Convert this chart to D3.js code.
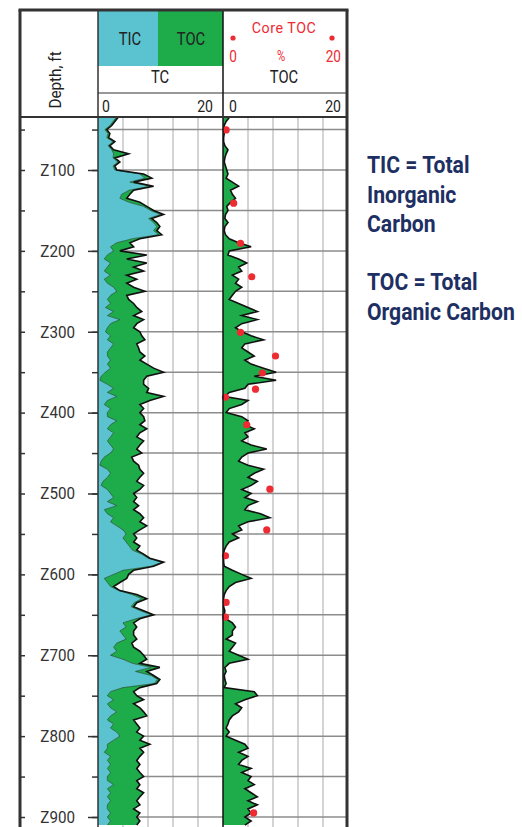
<!DOCTYPE html>
<html><head><meta charset="utf-8">
<script src="https://cdn.jsdelivr.net/npm/d3@7"></script>
<style>body{margin:0;background:#fff}svg{display:block}</style>
</head><body>
<svg id="c" width="522" height="827"></svg>
<script>
// ---------- data ----------
const depths = [35,40,45,50,55,60,65,70,75,80,85,90,95,100,105,110,115,120,125,130,135,140,145,150,155,160,165,170,175,180,185,190,195,200,205,210,215,220,225,230,235,240,
245,250,255,260,265,270,275,280,285,290,295,300,305,310,315,320,325,330,335,340,345,350,355,360,365,370,375,380,385,390,395,400,405,410,415,420,425,430,435,440,445,
450,455,460,465,470,475,480,485,490,495,500,505,510,515,520,525,530,535,540,545,550,555,560,565,570,575,580,585,590,595,600,605,610,615,620,625,630,635,640,645,650,655,660,665,670,
675,680,685,690,695,700,705,710,715,720,725,730,735,740,745,750,755,760,765,770,775,780,785,790,795,800,805,810,815,820,825,830,835,840,845,850,855,860,865,870,875,880,885,890,895,900,905,910];

const tcValues = [3.2,2.7,2.2,1.4,1.9,1.7,2.7,1.9,2.5,4.9,2.7,3.5,2.7,3.0,7.3,8.6,5.7,8.9,5.7,5.1,4.6,6.7,7.8,8.9,10.5,8.6,9.4,9.9,9.4,10.2,6.7,5.1,5.7,3.5,7.8,4.6,7.8,5.7,7.3,4.6,6.2,4.6,
5.7,7.5,4.6,4.9,5.7,6.2,7.0,5.7,7.3,6.2,5.7,6.7,7.0,7.5,6.2,6.5,6.7,7.5,6.7,7.8,8.9,10.5,7.8,7.3,7.3,8.1,7.8,10.5,8.3,6.7,7.3,6.7,7.3,7.5,6.7,7.8,6.7,6.2,7.3,6.7,6.2,
7.0,5.4,5.7,6.5,6.7,7.3,6.7,6.2,7.3,6.7,5.7,6.2,5.7,6.5,5.7,6.7,7.3,6.7,7.8,6.7,5.7,6.2,5.7,6.7,6.2,7.3,8.3,10.5,8.9,5.7,4.9,4.6,3.5,2.5,3.5,6.2,7.8,6.2,5.7,7.3,8.9,6.7,5.7,6.2,5.7,
5.7,6.2,5.4,5.7,6.7,7.3,7.8,6.7,9.9,7.8,8.9,9.9,9.4,6.7,5.7,6.2,7.3,5.7,6.7,7.3,7.8,5.7,6.2,6.7,6.2,7.3,6.7,8.3,6.7,7.3,6.7,6.2,6.7,6.2,6.7,7.3,6.2,6.7,6.2,7.3,6.7,6.2,6.7,5.7,6.7,6.2,6.7,6.2];

const ticValues = [2.9,2.4,1.9,1.1,1.6,1.4,2.4,1.6,2.2,2.5,2.4,3.2,2.4,2.7,6.7,7.5,5.1,8.3,5.0,3.8,3.5,5.0,7.3,8.4,10.0,8.1,8.9,9.4,8.9,9.7,5.5,3.0,2.0,2.5,1.5,1.0,2.0,1.5,1.0,2.0,1.0,1.5,
2.5,3.0,2.0,1.5,2.0,1.2,2.5,1.5,3.5,2.0,1.5,1.2,2.0,1.5,2.5,2.0,1.5,1.5,2.0,1.5,2.0,1.2,0.5,0.3,1.5,2.5,1.5,3.0,1.5,1.0,2.0,1.5,1.5,3.0,2.0,1.5,2.5,2.0,1.5,2.0,2.5,
2.0,1.0,0.5,0.3,1.5,2.0,1.5,0.8,0.5,1.5,2.0,2.5,1.5,3.0,1.0,1.5,2.5,2.0,3.0,4.0,4.5,4.0,4.5,5.0,5.5,7.0,8.0,10.2,8.5,4.0,2.5,1.0,1.5,2.0,3.3,5.5,7.0,5.8,5.3,6.8,8.5,6.0,4.0,4.5,3.5,
4.0,4.5,3.0,2.5,3.0,2.0,4.0,5.5,8.5,6.0,8.5,9.5,9.0,4.0,2.0,1.5,2.5,1.5,2.0,3.0,2.0,1.5,2.5,2.0,3.0,3.5,2.5,1.5,1.5,1.0,2.0,1.5,2.0,1.5,2.0,1.5,1.5,2.5,1.5,2.0,1.5,2.0,1.5,1.5,2.0,1.5,2.0,1.5];

const tocValues = [1.0,0.5,0.2,0.1,0.2,0.1,0.1,0.3,0.8,0.5,0.3,0.2,0.4,0.6,0.8,0.5,1.5,2.5,1.2,1.5,2.0,1.2,0.6,0.8,0.4,0.3,0.8,0.3,0.2,0.4,1.0,2.5,4.5,1.0,0.8,2.5,3.8,2.5,3.0,1.5,2.5,2.0,
3.0,2.0,1.5,1.0,2.5,4.0,5.5,3.0,5.5,3.0,2.0,3.0,4.5,6.5,3.5,3.0,4.0,5.0,3.5,4.5,6.5,8.5,5.0,8.5,4.0,3.5,1.0,0.3,4.0,3.0,1.0,0.5,3.0,4.0,3.5,5.0,3.5,4.0,3.0,4.5,7.0,
4.0,3.0,2.5,4.0,6.5,5.0,4.0,5.5,4.5,3.0,4.5,3.5,5.5,4.0,3.5,6.0,7.5,4.0,2.5,3.0,1.5,2.5,1.0,0.5,0.2,0.1,0.1,0.1,0.2,1.5,3.0,4.5,2.0,1.0,0.5,0.2,0.1,0.2,0.1,0.3,0.2,0.5,1.5,2.0,1.5,
1.5,0.5,2.0,1.5,1.0,2.5,4.0,1.0,0.3,0.5,0.2,0.3,0.5,0.2,5.0,5.5,3.5,2.0,3.0,2.5,1.5,1.0,0.8,0.5,1.0,0.5,2.0,3.5,4.0,2.5,4.0,3.0,2.5,4.5,3.0,4.5,4.0,5.0,3.5,4.5,5.5,4.0,5.5,4.0,4.5,3.5,4.5,3.5];

const coreDepths = [50.5,141,190.6,232,300.7,330,351,371,381,415,494.6,545,577,634.7,652.8,895];
const coreToc    = [0.5,1.7,2.8,4.6,2.8,8.4,6.3,5.2,0.4,3.8,7.5,7.0,0.4,0.5,0.4,4.9];

const depthTickValues = [50,100,150,200,250,300,350,400,450,500,550,600,650,700,750,800,850,900];
const depthLabelValues = [100,200,300,400,500,600,700,800,900];
const scaleTickLabels = ["0","20"];
const notes = [["TIC = Total","Inorganic","Carbon"],["TOC = Total","Organic Carbon"]];

// ---------- setup ----------
const svg = d3.select("#c");
const F = "Roboto, 'Noto Sans', sans-serif";
const CYAN = "#5ac3cf", GREEN = "#1eab4a", RED = "#ee2a32", NAVY = "#1d2f63";

const L = 20, R = 347, TOP = 10, DATA_TOP = 117, BOTTOM = 827;
const y = d3.scaleLinear().domain([100, 900]).range([170, 817]);
const xTC = d3.scaleLinear().domain([0, 20]).range([98, 223]);
const xTOC = d3.scaleLinear().domain([0, 20]).range([223, 348]);

const rows = depths.map((d, i) => ({depth: d, tc: tcValues[i], tic: ticValues[i], toc: tocValues[i]}));

svg.append("defs").append("clipPath").attr("id", "clip")
  .append("rect").attr("x", 98).attr("y", DATA_TOP).attr("width", R - 98).attr("height", BOTTOM - DATA_TOP);

// grid
const grid = svg.append("g");
const vg = [4, 8, 12, 16];
grid.selectAll(".v1").data(vg).join("line")
  .attr("x1", d => xTC(d)).attr("x2", d => xTC(d)).attr("y1", DATA_TOP).attr("y2", BOTTOM)
  .attr("stroke", "#d4d4d4").attr("stroke-width", 2);
grid.selectAll(".v2").data(vg).join("line")
  .attr("x1", d => xTOC(d)).attr("x2", d => xTOC(d)).attr("y1", DATA_TOP).attr("y2", BOTTOM)
  .attr("stroke", "#d4d4d4").attr("stroke-width", 2);
grid.selectAll(".h").data(depthTickValues).join("line")
  .attr("x1", 98).attr("x2", R).attr("y1", d => y(d)).attr("y2", d => y(d))
  .attr("stroke", "#8c8c8c").attr("stroke-width", 1.5);

// TC track
const g = svg.append("g").attr("clip-path", "url(#clip)");
g.append("path").datum(rows)
  .attr("d", d3.area().y(d => y(d.depth)).x0(xTC(0)).x1(d => xTC(d.tic)))
  .attr("fill", CYAN);
g.append("path").datum(rows)
  .attr("d", d3.area().y(d => y(d.depth)).x0(d => xTC(d.tic)).x1(d => xTC(d.tc)))
  .attr("fill", GREEN);
g.append("path").datum(rows)
  .attr("d", d3.line().y(d => y(d.depth)).x(d => xTC(d.tic)))
  .attr("fill", "none").attr("stroke", "#1d4a30").attr("stroke-width", 0.7);
g.append("path").datum(rows)
  .attr("d", d3.line().y(d => y(d.depth)).x(d => xTC(d.tc)))
  .attr("fill", "none").attr("stroke", "#111").attr("stroke-width", 1.6);

// TOC track
g.append("path").datum(rows)
  .attr("d", d3.area().y(d => y(d.depth)).x0(xTOC(0)).x1(d => xTOC(d.toc)))
  .attr("fill", GREEN);
g.append("path").datum(rows)
  .attr("d", d3.line().y(d => y(d.depth)).x(d => xTOC(d.toc)))
  .attr("fill", "none").attr("stroke", "#111").attr("stroke-width", 1.6);

// core points
g.selectAll(".core").data(coreDepths).join("circle")
  .attr("cx", (d, i) => xTOC(coreToc[i])).attr("cy", d => y(d)).attr("r", 3.6)
  .attr("fill", RED);

// depth axes
const axMajor = d3.axisLeft(y).tickValues(depthLabelValues).tickSize(10).tickPadding(0)
  .tickFormat(d => "Z" + d);
const axMinor = d3.axisLeft(y).tickValues(depthTickValues).tickSize(6).tickFormat("");
const axLeftEdge = d3.axisRight(y).tickValues(depthTickValues).tickSize(5).tickFormat("");
function styleAxis(s) {
  s.select(".domain").remove();
  s.selectAll(".tick line").attr("stroke", "#333").attr("stroke-width", 1.5);
  s.selectAll(".tick text").attr("fill", "#333").attr("font-family", F).attr("font-size", 16.5)
    .attr("x", 0).attr("transform", "translate(-23,0) scale(0.92,1)");
}
svg.append("g").attr("transform", "translate(98,0)").call(axMinor).call(styleAxis);
svg.append("g").attr("transform", "translate(98,0)").call(axMajor).call(styleAxis);
svg.append("g").attr("transform", "translate(20,0)").call(axLeftEdge).call(styleAxis);

// header
const h = svg.append("g");
h.append("rect").attr("x", 98).attr("y", TOP).attr("width", 60).attr("height", 56).attr("fill", CYAN);
h.append("rect").attr("x", 158).attr("y", TOP).attr("width", 65).attr("height", 56).attr("fill", GREEN);
function txt(x, yy, s, anchor, size, color, sx) {
  return h.append("text").attr("transform", `translate(${x},${yy}) scale(${sx || 0.82},1)`)
    .attr("text-anchor", anchor || "middle")
    .attr("font-family", F).attr("font-size", size || 18).attr("fill", color || "#222").text(s);
}
txt(130, 45, "TIC");
txt(191, 45, "TOC");
txt(160, 83, "TC");
txt(284, 83, "TOC");
txt(102, 112, scaleTickLabels[0], "start", 16, "#222", 0.88);
txt(213, 112, scaleTickLabels[1], "end", 16, "#222", 0.88);
txt(229, 112, scaleTickLabels[0], "start", 16, "#222", 0.88);
txt(341, 112, scaleTickLabels[1], "end", 16, "#222", 0.88);
txt(284, 33, "Core TOC", "middle", 15.5, RED, 0.92).attr("letter-spacing", 0.6);
txt(233, 62, "0", "middle", 16, RED, 0.85);
txt(281, 61, "%", "middle", 15, RED, 0.75);
txt(341, 62, "20", "end", 16, RED, 0.85);
h.append("circle").attr("cx", 233).attr("cy", 38).attr("r", 2.6).attr("fill", RED);
h.append("circle").attr("cx", 332).attr("cy", 38).attr("r", 2.6).attr("fill", RED);
h.append("text").attr("transform", "translate(61,80) rotate(-90) scale(0.9,1)").attr("text-anchor", "middle")
  .attr("font-family", F).attr("font-size", 17).attr("fill", "#222").text("Depth, ft");

// frame lines
const fr = svg.append("g").attr("stroke", "#333");
fr.append("line").attr("x1", 98).attr("x2", R).attr("y1", 93).attr("y2", 93).attr("stroke-width", 1);
fr.append("line").attr("x1", 98).attr("x2", 98).attr("y1", TOP).attr("y2", BOTTOM).attr("stroke-width", 1.5);
fr.append("line").attr("x1", 223).attr("x2", 223).attr("y1", TOP).attr("y2", BOTTOM).attr("stroke-width", 1.5).attr("stroke", "#111");
fr.append("line").attr("x1", L).attr("x2", R).attr("y1", DATA_TOP).attr("y2", DATA_TOP).attr("stroke-width", 2.2);
fr.append("line").attr("x1", L - 1.5).attr("x2", R + 1.5).attr("y1", TOP).attr("y2", TOP).attr("stroke-width", 3);
fr.append("line").attr("x1", L).attr("x2", L).attr("y1", TOP).attr("y2", BOTTOM).attr("stroke-width", 3);
fr.append("line").attr("x1", R).attr("x2", R).attr("y1", TOP).attr("y2", BOTTOM).attr("stroke-width", 3);

// notes
const nt = svg.append("g").attr("font-family", F).attr("font-size", 23).attr("font-weight", "bold").attr("fill", NAVY);
const noteBase = [173, 290];
notes.forEach((block, bi) => {
  block.forEach((line, li) => {
    nt.append("text").attr("transform", `translate(367,${noteBase[bi] + li * 29.5}) scale(0.92,1)`).text(line);
  });
});
</script>
</body></html>
